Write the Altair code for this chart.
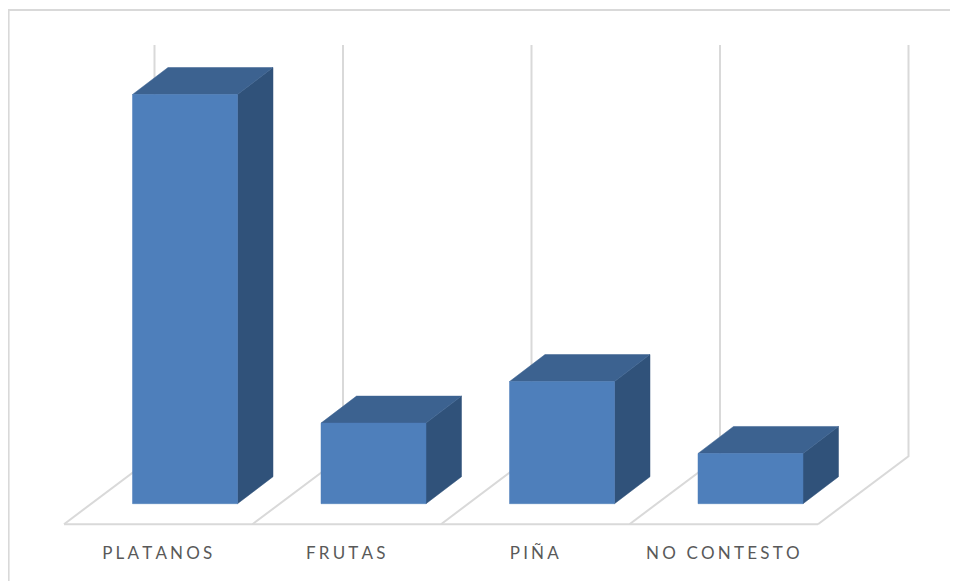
import altair as alt
import pandas as pd

categories = ["PLATANOS", "FRUTAS", "PIÑA", "NO CONTESTO"]
values = [66, 13, 19.7, 8.1]

W, H = 942, 573
BASE = 495.7          # pixel row of the value zero
PX_X = 188.5          # pixels per category slot
PX_Y = 6.2            # pixels per value unit
HALF = 52.5 / PX_X    # half bar width
DX = 35.5 / PX_X      # bar depth, horizontal
DY = 27 / PX_Y        # bar depth, vertical
FLOOR_DX = 90.5 / PX_X
FLOOR_DY = 68 / PX_Y
FLOOR_FRONT = -20.5 / PX_Y
FLOOR_LEFT = -121 / PX_X
GRID_TOP = (BASE - 37) / PX_Y

x_scale = alt.Scale(domain=[-177 / PX_X, (W - 177) / PX_X], nice=False, zero=False)
y_scale = alt.Scale(domain=[-(H - BASE) / PX_Y, BASE / PX_Y], nice=False, zero=False)
X = lambda f="x": alt.X(f"{f}:Q", scale=x_scale, axis=None)
Y = lambda f="y": alt.Y(f"{f}:Q", scale=y_scale, axis=None)

GRID = "#d9d9d9"
FRONT, TOP, SIDE = "#4e7fbb", "#3c6290", "#30527a"

# floor and wall lines
rows = []
for i in range(len(categories) + 1):
    base = FLOOR_LEFT + i
    rows += [
        {"g": i, "o": 0, "x": base, "y": FLOOR_FRONT},
        {"g": i, "o": 1, "x": base + FLOOR_DX, "y": FLOOR_FRONT + FLOOR_DY},
        {"g": i, "o": 2, "x": base + FLOOR_DX, "y": GRID_TOP},
    ]
rows += [
    {"g": 99, "o": 0, "x": FLOOR_LEFT, "y": FLOOR_FRONT},
    {"g": 99, "o": 1, "x": FLOOR_LEFT + len(categories), "y": FLOOR_FRONT},
]
grid = alt.Chart(pd.DataFrame(rows)).mark_line(color=GRID, strokeWidth=2).encode(
    x=X(), y=Y(), detail="g:N", order="o:Q"
)

front_df = pd.DataFrame([
    {"c": c, "x": i - HALF, "x2": i + HALF, "y": v, "y2": 0}
    for i, (c, v) in enumerate(zip(categories, values))
])
front = alt.Chart(front_df).mark_rect(color=FRONT, stroke=FRONT, strokeWidth=0.5).encode(
    x=X(), x2="x2:Q", y=Y(), y2="y2:Q"
)

side_rows, top_rows = [], []
for i, v in enumerate(values):
    r = i + HALF
    side_rows += [
        {"c": i, "x": r, "y": v, "y2": 0},
        {"c": i, "x": r + DX, "y": v + DY, "y2": DY},
    ]
    top_rows += [
        {"c": i, "y": v, "x": i - HALF, "x2": r},
        {"c": i, "y": v + DY, "x": i - HALF + DX, "x2": r + DX},
    ]
side = alt.Chart(pd.DataFrame(side_rows)).mark_area(color=SIDE, interpolate="linear", stroke=SIDE, strokeWidth=0.5).encode(
    x=X(), y=Y(), y2="y2:Q", detail="c:N"
)
top = alt.Chart(pd.DataFrame(top_rows)).mark_area(color=TOP, orient="horizontal", interpolate="linear", stroke=TOP, strokeWidth=0.5).encode(
    y=Y(), x=X(), x2="x2:Q", detail="c:N"
)

SP = "\u200a"
label_df = pd.DataFrame([
    {"t": (SP * 3).join(c), "x": FLOOR_LEFT + i + 0.5 - 1 / PX_X, "y": -50 / PX_Y}
    for i, c in enumerate(categories)
])
labels = alt.Chart(label_df).mark_text(
    font="Lato", fontSize=17, color="#595959", align="center", baseline="middle"
).encode(x=X(), y=Y(), text="t:N")

frame_left = alt.Chart(pd.DataFrame({"a": [0]})).mark_rule(color=GRID, strokeWidth=2).encode(
    x=alt.value(0.6), y=alt.value(2), y2=alt.value(H)
)
frame_top = alt.Chart(pd.DataFrame({"a": [0]})).mark_rule(color=GRID, strokeWidth=2).encode(
    y=alt.value(2), x=alt.value(0), x2=alt.value(W)
)

chart = alt.layer(frame_left, frame_top, grid, side, top, front, labels).properties(
    width=W, height=H, padding=0, autosize=alt.AutoSizeParams(type="none"), background="white"
).configure_view(stroke=None)

chart.save("out.html", embed_options={"renderer": "svg", "actions": False})
